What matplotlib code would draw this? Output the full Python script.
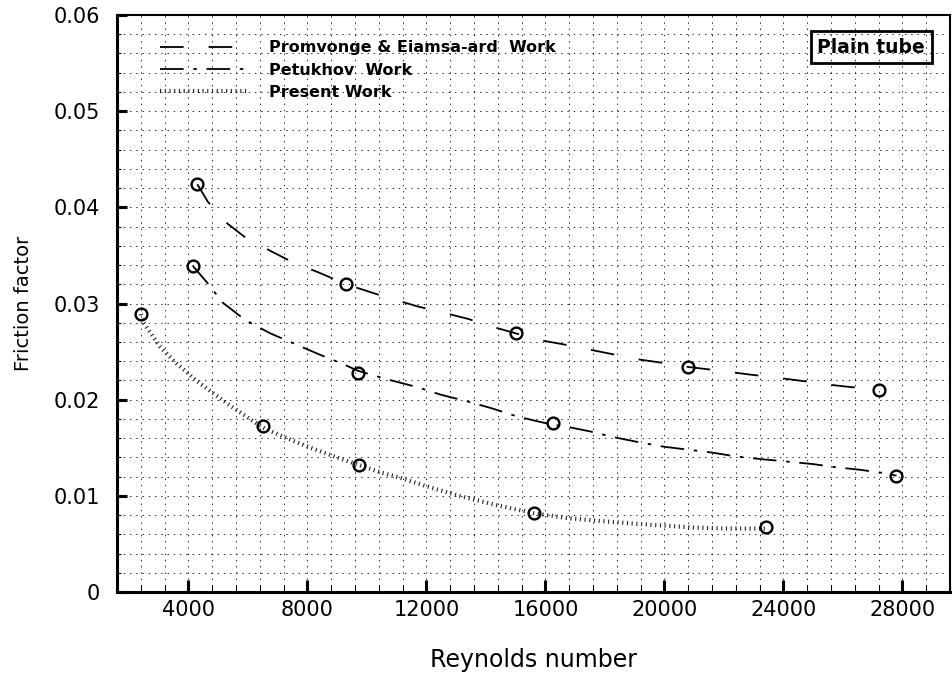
import matplotlib
matplotlib.use("Agg")
import matplotlib.pyplot as plt
from matplotlib.ticker import MultipleLocator, FuncFormatter

plt.rcParams['font.family'] = ['DejaVu Sans']
plt.rcParams['lines.scale_dashes'] = False

# ---- curves (Reynolds number vs friction factor) ----
re_prom = [4300, 4650, 5150, 5900, 6800, 7500, 8400, 9300, 10500, 11700, 12500, 13400,
           14200, 15000, 15800, 16700, 17500, 18300, 19100, 20000, 20800, 21900, 22900,
           24000, 25000, 25700, 26600, 27200]
f_prom = [0.0424, 0.0406, 0.0387, 0.0369, 0.0354, 0.0343, 0.0332, 0.0320, 0.0308, 0.0297,
          0.0291, 0.0284, 0.0276, 0.0269, 0.0262, 0.0257, 0.0252, 0.0247, 0.0242, 0.0238,
          0.0234, 0.0230, 0.0226, 0.0222, 0.0218, 0.0215, 0.0212, 0.0210]

re_petu = [4150, 4400, 4650, 5150, 5900, 6750, 7500, 8400, 9200, 9700, 10700, 11700, 12500,
           13400, 14200, 15000, 15800, 16250, 16700, 17500, 18300, 19100, 20000, 20800,
           21600, 22400, 23300, 24000, 25000, 25700, 26600, 27300, 27800]
f_petu = [0.0339, 0.0330, 0.0321, 0.0301, 0.0283, 0.0269, 0.0259, 0.0247, 0.0237, 0.0230,
          0.0221, 0.0213, 0.0205, 0.0198, 0.0191, 0.0183, 0.0177, 0.0174, 0.0172, 0.0167,
          0.0161, 0.0156, 0.0151, 0.0148, 0.0145, 0.0141, 0.0138, 0.0136, 0.0133, 0.0130,
          0.0127, 0.0124, 0.0121]

re_pres = [2400, 2470, 3050, 3550, 4300, 4650, 5350, 5970, 6500, 7300, 8100, 8900, 9750,
           10500, 11100, 12000, 13100, 14400, 15600, 16700, 17800, 19000, 20000, 21000,
           22000, 22800, 23400]
f_pres = [0.0289, 0.0281, 0.0255, 0.0239, 0.0219, 0.0211, 0.0195, 0.0182, 0.0171, 0.0160,
          0.0150, 0.0141, 0.0132, 0.0124, 0.0119, 0.0110, 0.0100, 0.0090, 0.0082, 0.0077,
          0.0074, 0.0071, 0.0069, 0.0067, 0.0066, 0.0066, 0.0066]

# ---- data points (circles) ----
re_prom_pts = [4300, 9300, 15000, 20800, 27200]
f_prom_pts = [0.0424, 0.0320, 0.0269, 0.0234, 0.0210]
re_petu_pts = [4150, 9700, 16250, 27800]
f_petu_pts = [0.0339, 0.0228, 0.0176, 0.0121]
re_pres_pts = [2400, 6500, 9750, 15600, 23400]
f_pres_pts = [0.0289, 0.0173, 0.0132, 0.0082, 0.0068]

labels = ['Promvonge & Eiamsa-ard  Work', 'Petukhov  Work', 'Present Work']

fig = plt.figure(figsize=(9.52, 6.74), dpi=100)
ax = fig.add_axes([117 / 952, 82 / 674, 833 / 952, 577 / 674])

l1, = ax.plot(re_prom, f_prom, color='black', lw=1.3, ls=(0, (17, 18)),
              dash_capstyle='butt', label=labels[0])
l2, = ax.plot(re_petu, f_petu, color='black', lw=1.3, ls=(0, (17, 7, 2.5, 7)),
              dash_capstyle='butt', label=labels[1])
l3, = ax.plot(re_pres, f_pres, color='#222222', lw=3.0, ls=(0, (0.8, 2.6)),
              dash_capstyle='butt', label=labels[2])

for xs, ys in [(re_prom_pts, f_prom_pts), (re_petu_pts, f_petu_pts), (re_pres_pts, f_pres_pts)]:
    ax.plot(xs, ys, ls='none', marker='o', ms=8.5, mfc='none', mec='black', mew=1.7)

ax.set_xlim(1600, 29600)
ax.set_ylim(0, 0.06)
ax.xaxis.set_major_locator(MultipleLocator(4000))
ax.xaxis.set_minor_locator(MultipleLocator(800))
ax.yaxis.set_major_locator(MultipleLocator(0.01))
ax.yaxis.set_minor_locator(MultipleLocator(0.002))
ax.yaxis.set_major_formatter(FuncFormatter(lambda v, p: '0' if abs(v) < 1e-9 else '%.2f' % v))

ax.grid(True, which='both', color='black', lw=0.6, ls=(0, (1, 3.5)))
ax.set_axisbelow(True)

ax.tick_params(axis='both', which='both', direction='in', top=False, right=False,
               labelsize=15, colors='black')
ax.tick_params(axis='x', which='major', length=9, width=2.2, pad=6)
ax.tick_params(axis='x', which='minor', length=5, width=0.8)
ax.tick_params(axis='y', which='major', length=7, width=2.2, pad=12)
ax.tick_params(axis='y', which='minor', length=3, width=0.8)

for side in ['left', 'bottom']:
    ax.spines[side].set_linewidth(2.2)
for side in ['top', 'right']:
    ax.spines[side].set_linewidth(1.5)

ax.set_xlabel('Reynolds number', fontsize=17, labelpad=20)
ax.set_ylabel('Friction factor', fontsize=14, labelpad=15)

ax.legend(handles=[l1, l2, l3], loc='upper left', bbox_to_anchor=(0.0516, 0.956),
          frameon=False, handlelength=5.5, handletextpad=1.3,
          labelspacing=0.45, borderpad=0, borderaxespad=0,
          prop={'weight': 'bold', 'size': 11.5})

ax.text(0.9055, 0.944, 'Plain tube', transform=ax.transAxes, ha='center', va='center',
        fontsize=13.5, fontweight='bold',
        bbox=dict(boxstyle='square,pad=0.35', fc='none', ec='black', lw=2))

fig.savefig('out.png', dpi=100)
